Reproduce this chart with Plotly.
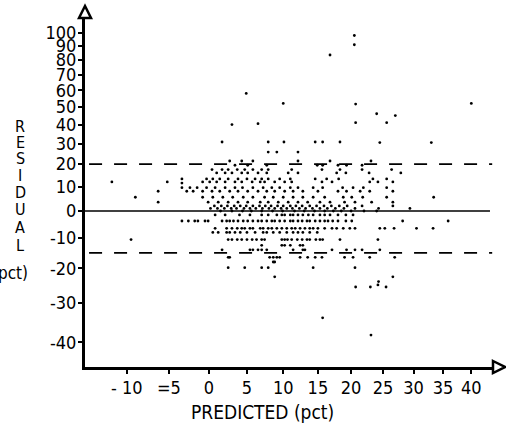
import plotly.graph_objects as go

# ---------------- data ----------------
# Both axes of the original are drawn on a log(value + 100) scale.
OFFSET = 100

x_tick_values = [-10, -5, 0, 5, 10, 15, 20, 25, 30, 35, 40]
x_tick_labels = ["- 10", "=5", "0", "5", "10", "15", "20", "25", "30", "35", "40"]
y_tick_values = [-40, -30, -20, -10, 0, 10, 20, 30, 40, 50, 60, 70, 80, 90, 100]
y_tick_labels = ["-40", "-30", "-20", "-10", "0", "10", "20", "30", "40", "50", "60", "70", "80", "90", "100"]

zero_residual = 0
limit_residuals = [20, -15]

# isolated points (predicted pct, residual pct)
outlier_predicted = [20.5, 20.5, 16.8, 4.9, 10.0, 20.7, 40.0, 24.0, 27.0, 20.7, 25.6, 3.0, 6.5,
                     1.7, 7.9, 10.1, 14.6, 15.7, 18.3, 24.5, 33.0, 7.9, 9.1, 12.1, -3.4,
                     20.7, 23.0, 25.5, 24.2, 24.3, 26.6, 15.7, 23.1, 8.8]
outlier_residual = [98, 91, 83.5, 58, 52, 51.6, 52, 46, 45, 41, 41, 40, 40.5,
                    30.8, 30.8, 30.8, 30.8, 30.8, 30.8, 30.5, 30.5, 25.8, 25.8, 25.8, 11.5,
                    -25.6, -25.6, -25.6, -25.0, -24.0, -22.6, -34, -38.3, -22.6]

# rows of points: residual level -> predicted values
row_levels = [21.5, 19.5, 17.5, 16, 13.3, 12, 9.5, 8, 5.5, 3.5, 2.0, 1.0, 0,
              -1.5, -3.8, -6.5, -8, -10.5, -12.5, -14, -16.5, -18, -19.8]
pred_r21_5 = [2.7, 4.3, 5.8, 12.1, 16.8, 23.1]
pred_r19_5 = [3.4, 5.1, 7.7, 14.9, 15.7, 18.0, 19.3, 21.7]
pred_r17_5 = [0.4, 1.7, 2.5, 3.7, 4.7, 5.8, 7.0, 7.9, 11.2, 15.6, 18.3, 21.7, 26.4]
pred_r16 = [1.0, 2.1, 3.0, 4.3, 5.1, 6.5, 7.7, 10.7, 12.1, 17.8, 19.2, 22.8, 27.9]
pred_r13_3 = [-3.4, -0.3, 0.5, 1.4, 2.5, 3.8, 5.0, 6.1, 7.0, 7.9, 9.5, 11.0, 14.6, 16.3, 18.1, 23.4, 25.6]
pred_r12 = [-11.7, -5.2, -0.8, 0.1, 1.0, 2.1, 3.4, 4.3, 5.7, 6.8, 7.4, 8.8, 10.2, 11.2, 15.6, 17.1,
            22.9, 24.2, 26.6]
pred_r9_5 = [-3.4, -2.4, -1.5, -0.3, 0.8, 2.1, 3.4, 4.4, 5.8, 7.2, 8.4, 9.5, 11.0, 12.1, 14.3, 15.7,
             18.7, 20.3, 21.9, 25.6]
pred_r8 = [-6.3, -2.8, -2.0, -0.8, 0.4, 1.4, 2.7, 3.8, 5.1, 6.5, 7.7, 8.8, 10.2, 11.4, 12.8, 15.0,
           18.0, 19.3, 21.4, 22.9, 26.6]
pred_r5_5 = [-9.0, -0.8, 0.5, 1.8, 3.1, 4.5, 5.8, 7.4, 8.6, 10.0, 11.4, 12.8, 14.3, 16.0, 18.8, 20.1,
             21.8, 25.6, 33.4]
pred_r3_5 = [-6.3, -0.1, 1.2, 2.5, 3.8, 5.1, 6.8, 7.9, 9.3, 10.7, 12.1, 13.5, 15.3, 16.8, 19.0, 20.6,
             23.2, 26.6]
pred_r2 = [0.7, 1.6, 2.4, 3.3, 4.1, 4.9, 5.8, 6.7, 7.5, 8.3, 9.2, 10.0, 11.0, 11.8, 12.7, 13.8, 14.8,
           15.9, 17.0, 18.2, 19.4, 21.7, 26.6]
pred_r1 = [0.2, 1.1, 2.0, 2.9, 3.6, 4.6, 5.4, 6.2, 7.1, 8.0, 8.8, 9.7, 10.5, 11.3, 12.3, 13.2, 14.2,
           15.3, 16.4, 17.6, 18.9, 20.6, 24.3, 29.4]
pred_r0 = [1.5, 3.0, 4.4, 5.6, 7.0, 8.5, 9.9, 11.6, 13.0, 14.5, 16.0, 17.3, 18.5, 20.0, 22.0, 24.0]
pred_rm1_5 = [0.8, 2.1, 4.0, 5.4, 7.0, 7.9, 9.1, 9.8, 10.2, 11.0, 11.4, 12.1, 12.8, 13.6, 14.3, 15.3,
              16.0, 16.8, 18.0, 19.2, 20.3]
pred_rm3_8 = [-3.4, -2.6, -1.8, -1.4, -0.5, -0.1, 1.7, 2.3, 2.7, 3.2, 3.8, 4.5, 5.1, 5.8, 6.5, 7.0,
              7.7, 8.4, 8.8, 9.5, 10.2, 11.0, 11.4, 12.1, 12.7, 13.4, 13.8, 14.6, 15.3, 16.0, 16.5,
              17.2, 18.0, 19.2, 20.1, 28.2, 35.9]
pred_rm6_5 = [0.8, 2.3, 3.0, 3.7, 4.3, 4.7, 5.4, 5.8, 6.8, 7.2, 7.9, 8.4, 9.1, 9.8, 10.5, 11.2, 11.7,
              12.4, 13.1, 13.8, 14.3, 15.0, 16.0, 17.1, 17.8, 18.8, 19.8, 20.6, 24.5, 25.3, 26.8,
              30.5, 33.3]
pred_rm8 = [0.5, 1.2, 2.3, 2.7, 3.4, 4.1, 5.0, 6.1, 7.2, 7.7, 8.6, 9.5, 10.5, 11.4, 12.1, 12.8, 13.8,
            14.9]
pred_rm10_5 = [-9.5, 2.5, 3.0, 3.7, 4.3, 5.0, 5.7, 6.3, 7.0, 7.4, 9.8, 10.2, 10.6, 11.2, 12.0, 12.7,
               13.4, 13.8, 14.7, 15.3, 15.7, 18.3, 24.2]
pred_rm12_5 = [7.0, 9.8, 10.2, 11.0, 12.4, 12.8]
pred_rm14 = [1.7, 5.4, 5.8, 6.5, 7.0, 7.7, 11.4, 12.8, 13.1, 17.1, 19.3, 20.6, 21.7, 24.5]
pred_rm16_5 = [2.5, 2.7, 8.1, 8.6, 9.1, 9.5, 12.4, 13.5, 14.6, 15.6, 19.0, 20.3, 22.9, 26.9]
pred_rm18 = [8.6, 8.8]
pred_rm19_8 = [2.5, 4.7, 7.0, 7.9, 14.3, 20.6]

row_predicted = [pred_r21_5, pred_r19_5, pred_r17_5, pred_r16, pred_r13_3, pred_r12, pred_r9_5,
                 pred_r8, pred_r5_5, pred_r3_5, pred_r2, pred_r1, pred_r0, pred_rm1_5, pred_rm3_8,
                 pred_rm6_5, pred_rm8, pred_rm10_5, pred_rm12_5, pred_rm14, pred_rm16_5,
                 pred_rm18, pred_rm19_8]

# ---------------- assemble ----------------
predicted = list(outlier_predicted)
residual = list(outlier_residual)
for level, preds in zip(row_levels, row_predicted):
    predicted += preds
    residual += [level] * len(preds)

FONT = "Liberation Sans Narrow, DejaVu Sans Condensed, Arial Narrow, sans-serif"

fig = go.Figure()
fig.add_trace(go.Scatter(
    x=[p + OFFSET for p in predicted],
    y=[r + OFFSET for r in residual],
    mode="markers",
    marker=dict(size=2.8, color="black"),
    showlegend=False, hoverinfo="skip", cliponaxis=False,
))

shapes = [dict(type="line", xref="paper", yref="y", x0=0, x1=0.9926,
               y0=zero_residual + OFFSET, y1=zero_residual + OFFSET,
               line=dict(color="black", width=1.6))]
for lv in limit_residuals:
    shapes.append(dict(type="line", xref="paper", yref="y", x0=0.01, x1=0.998,
                       y0=lv + OFFSET, y1=lv + OFFSET,
                       line=dict(color="black", width=1.8, dash="13px,12px")))
# open arrow heads at the axis ends
shapes.append(dict(type="path", xref="paper", yref="paper",
                   path="M -0.0147 1.0 L 0 1.0344 L 0.0147 1.0 Z",
                   line=dict(color="black", width=2.5), fillcolor="white"))
shapes.append(dict(type="path", xref="paper", yref="paper",
                   path="M 1.0 0.0172 L 1.0294 0 L 1.0 -0.0172 Z",
                   line=dict(color="black", width=2.5), fillcolor="white"))

annotations = [dict(text="PREDICTED (pct)", xref="paper", yref="paper", x=0.434, y=-0.129,
                    xanchor="center", yanchor="middle", showarrow=False,
                    font=dict(family=FONT, size=19, color="black"))]
letter_px = [126, 142, 158, 175, 192, 209, 227, 245]
for ch, py in zip("RESIDUAL", letter_px):
    annotations.append(dict(text=ch, xref="paper", yref="paper", x=(20 - 85) / 408,
                            y=(367 - py) / 349, xanchor="center", yanchor="middle",
                            showarrow=False, font=dict(family=FONT, size=16, color="black")))
annotations.append(dict(text="(pct)", xref="paper", yref="paper", x=(-10 - 85) / 408,
                        y=(367 - 273) / 349, xanchor="left", yanchor="middle", showarrow=False,
                        font=dict(family=FONT, size=17, color="black")))

axis_common = dict(type="log", showgrid=False, zeroline=False, showline=True,
                   linecolor="black", linewidth=3, ticks="outside", ticklen=4,
                   tickwidth=2, tickcolor="black", ticklabelstandoff=-2,
                   tickfont=dict(family=FONT, size=18, color="black"))

fig.update_layout(
    width=506, height=426,
    margin=dict(l=85, r=13, t=18, b=59),
    paper_bgcolor="white", plot_bgcolor="white",
    xaxis=dict(axis_common, range=[1.931, 2.1582],
               tickvals=[v + OFFSET for v in x_tick_values], ticktext=x_tick_labels),
    yaxis=dict(axis_common, range=[1.7364, 2.3262],
               tickvals=[v + OFFSET for v in y_tick_values], ticktext=y_tick_labels),
    shapes=shapes, annotations=annotations,
)

fig.write_html("out.html", config={"displayModeBar": False},
               post_script="document.body.style.margin='0';")
